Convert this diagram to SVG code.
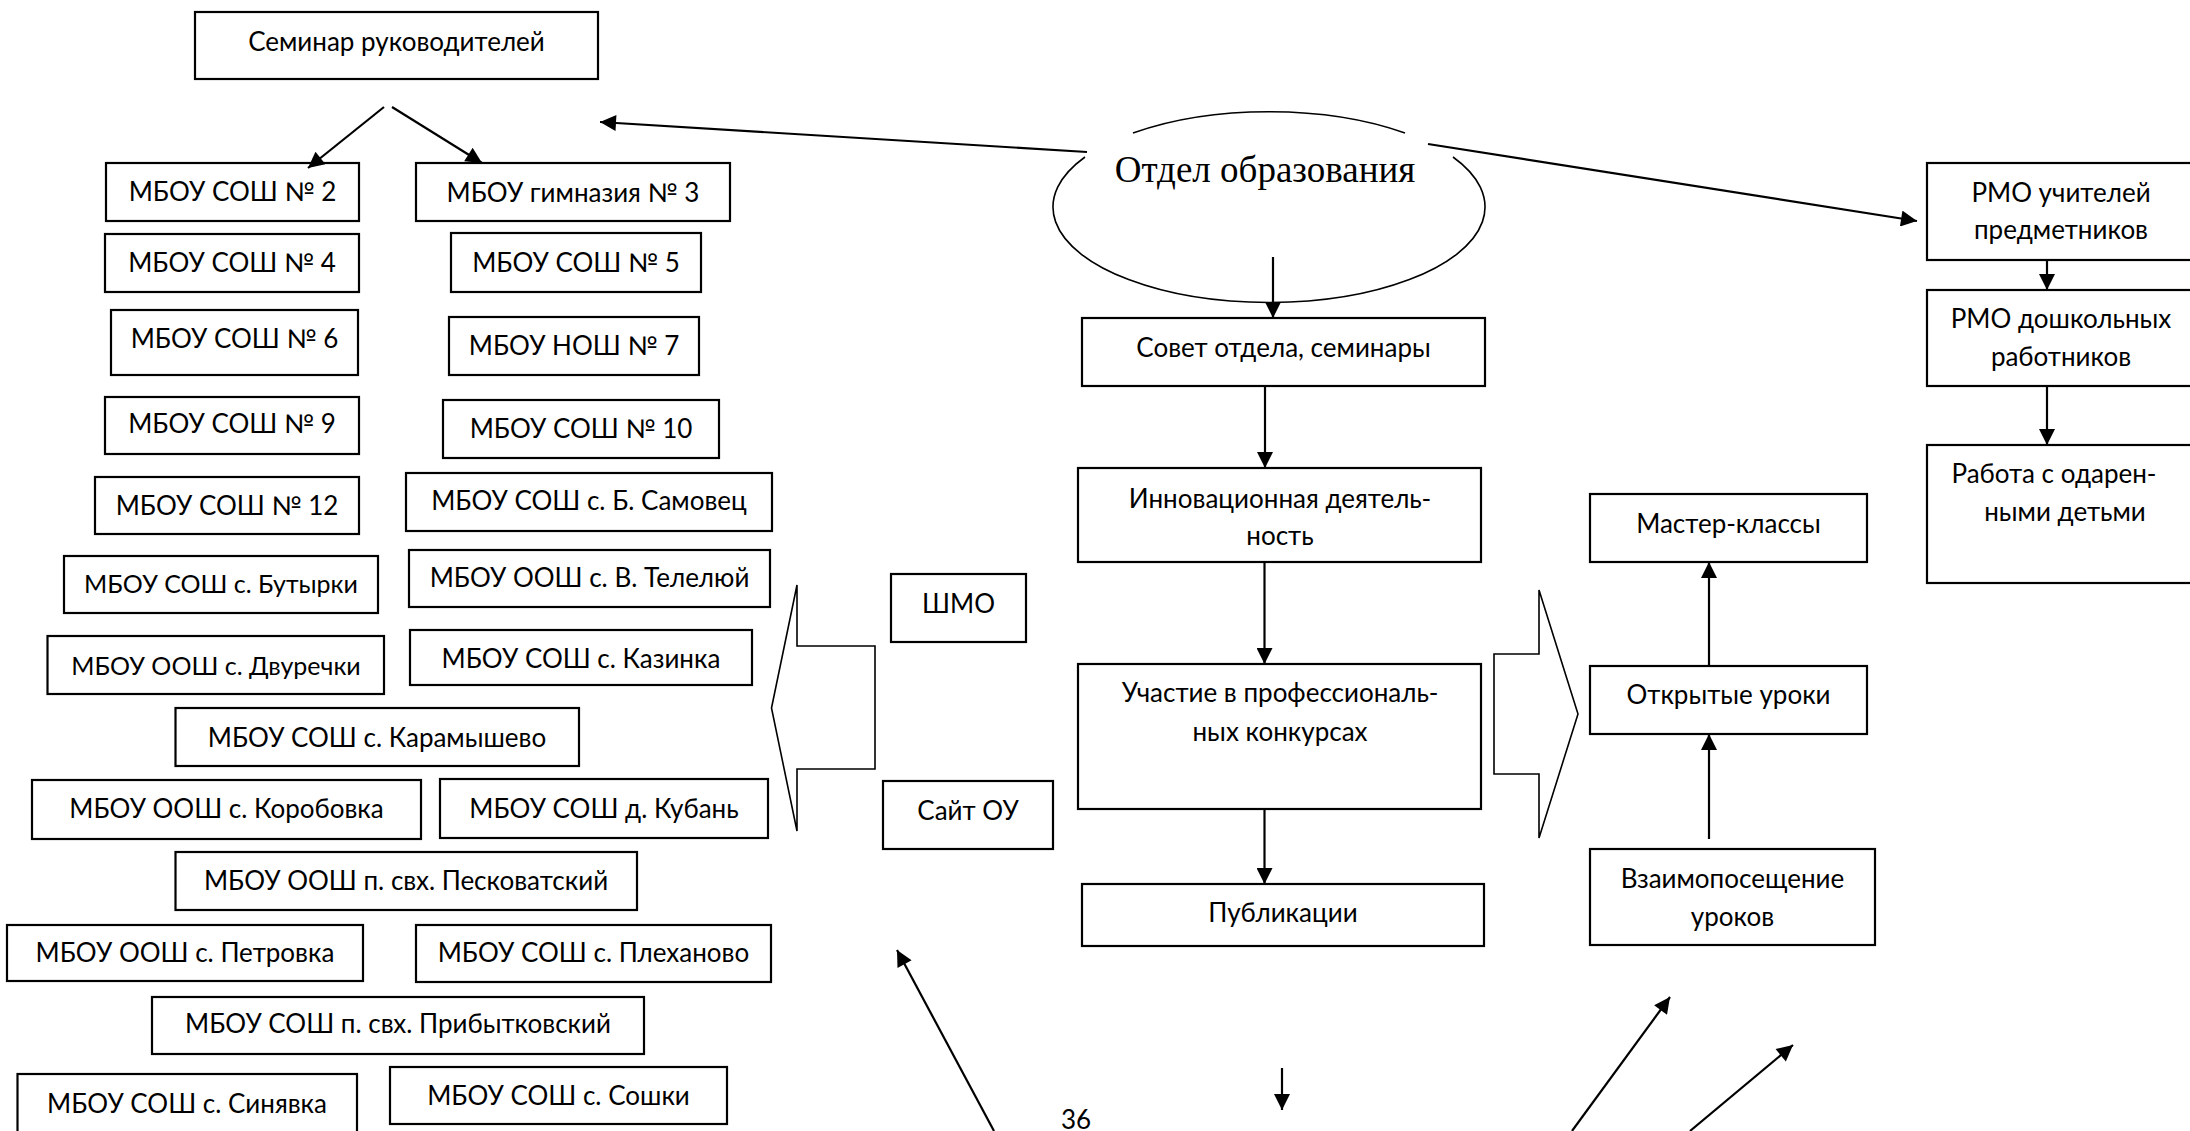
<svg xmlns="http://www.w3.org/2000/svg" width="2190" height="1131" viewBox="0 0 2190 1131">
<defs>
<marker id="ah" viewBox="0 0 10 10" refX="10" refY="5" markerWidth="17" markerHeight="16" markerUnits="userSpaceOnUse" orient="auto"><path d="M0,0 L10,5 L0,10 z" fill="#000"/></marker>
<style>
.b{fill:#fff;stroke:#000;stroke-width:2.2}
.t{font-family:Lato,"Liberation Sans","Noto Sans",sans-serif;font-size:26px;fill:#000;text-anchor:middle}
.s{font-size:25px}
.c{fill:none;stroke:#000;stroke-width:2.2;marker-end:url(#ah)}
.blk{fill:#fff;stroke:#000;stroke-width:1.6}
.e{fill:none;stroke:#000;stroke-width:1.6}
</style>
</defs>
<rect width="2190" height="1131" fill="#fff"/>

<g id="seminar"><rect class="b" x="195" y="12" width="403" height="67"/><text class="t" x="396.5" y="51">Семинар руководителей</text></g>
<g id="sosh2"><rect class="b" x="106" y="163" width="253" height="58"/><text class="t" x="232.5" y="201">МБОУ СОШ № 2</text></g>
<g id="gym3"><rect class="b" x="416" y="163" width="314" height="58"/><text class="t" x="573" y="202">МБОУ гимназия № 3</text></g>
<g id="sosh4"><rect class="b" x="105" y="234" width="254" height="58"/><text class="t" x="232" y="272">МБОУ СОШ № 4</text></g>
<g id="sosh5"><rect class="b" x="451" y="233" width="250" height="59"/><text class="t" x="576" y="272">МБОУ СОШ № 5</text></g>
<g id="sosh6"><rect class="b" x="111" y="310" width="247" height="65"/><text class="t" x="234.5" y="348">МБОУ СОШ № 6</text></g>
<g id="nosh7"><rect class="b" x="449" y="317" width="250" height="58"/><text class="t" x="574" y="355">МБОУ НОШ № 7</text></g>
<g id="sosh9"><rect class="b" x="105" y="397" width="254" height="57"/><text class="t" x="232" y="433">МБОУ СОШ № 9</text></g>
<g id="sosh10"><rect class="b" x="443" y="400" width="276" height="58"/><text class="t" x="581" y="438">МБОУ СОШ № 10</text></g>
<g id="sosh12"><rect class="b" x="95" y="477" width="264" height="57"/><text class="t" x="227" y="515">МБОУ СОШ № 12</text></g>
<g id="samovets"><rect class="b" x="406" y="473" width="366" height="58"/><text class="t" x="589" y="510">МБОУ СОШ с. Б. Самовец</text></g>
<g id="butyrki"><rect class="b" x="64" y="556" width="314" height="57"/><text class="t s" x="221" y="593">МБОУ СОШ с. Бутырки</text></g>
<g id="telelyuy"><rect class="b" x="409" y="550" width="361" height="57"/><text class="t" x="589.5" y="587">МБОУ ООШ с. В. Телелюй</text></g>
<g id="dvurechki"><rect class="b" x="47.5" y="636" width="336.5" height="58"/><text class="t s" x="216" y="675">МБОУ ООШ с. Двуречки</text></g>
<g id="kazinka"><rect class="b" x="410" y="630" width="342" height="55"/><text class="t" x="581" y="668">МБОУ СОШ с. Казинка</text></g>
<g id="karamyshevo"><rect class="b" x="175.5" y="708" width="403.5" height="58"/><text class="t" x="377" y="747">МБОУ СОШ с. Карамышево</text></g>
<g id="korobovka"><rect class="b" x="32" y="780" width="389" height="59"/><text class="t" x="226.5" y="818">МБОУ ООШ с. Коробовка</text></g>
<g id="kuban"><rect class="b" x="440" y="779" width="328" height="59"/><text class="t" x="604" y="818">МБОУ СОШ д. Кубань</text></g>
<g id="peskovatsky"><rect class="b" x="175.5" y="852" width="461.5" height="58"/><text class="t" x="406" y="890">МБОУ ООШ п. свх. Песковатский</text></g>
<g id="petrovka"><rect class="b" x="7" y="925" width="356" height="56"/><text class="t" x="185" y="962">МБОУ ООШ с. Петровка</text></g>
<g id="plekhanovo"><rect class="b" x="416" y="925" width="355" height="57"/><text class="t" x="593.5" y="962">МБОУ СОШ с. Плеханово</text></g>
<g id="pribytkovsky"><rect class="b" x="152" y="997" width="492" height="57"/><text class="t" x="398" y="1033">МБОУ СОШ п. свх. Прибытковский</text></g>
<g id="sinyavka"><rect class="b" x="17.5" y="1074" width="339.5" height="70"/><text class="t" x="187" y="1113">МБОУ СОШ с. Синявка</text></g>
<g id="soshki"><rect class="b" x="390" y="1067" width="337" height="57"/><text class="t" x="558.5" y="1105">МБОУ СОШ с. Сошки</text></g>

<g id="otdel">
<path class="e" d="M1133,133 A216,95.5 0 0 1 1405,133"/>
<path class="e" d="M1453,157 A216,95.5 0 1 1 1085,157"/>
<text x="1265" y="182" font-family="'Liberation Serif','Times New Roman',serif" font-size="37" text-anchor="middle">Отдел образования</text>
</g>
<g id="sovet"><rect class="b" x="1082" y="318" width="403" height="68"/><text class="t" x="1283.5" y="357">Совет отдела, семинары</text></g>
<g id="innov"><rect class="b" x="1078" y="468" width="403" height="94"/><text class="t" x="1280" y="508">Инновационная деятель-</text><text class="t" x="1280" y="545">ность</text></g>
<g id="uchastie"><rect class="b" x="1078" y="664" width="403" height="145"/><text class="t" x="1280" y="702">Участие в профессиональ-</text><text class="t" x="1280" y="741">ных конкурсах</text></g>
<g id="publ"><rect class="b" x="1082" y="884" width="402" height="62"/><text class="t" x="1283" y="922">Публикации</text></g>
<g id="shmo"><rect class="b" x="891" y="574" width="135" height="68"/><text class="t" x="958.5" y="613">ШМО</text></g>
<g id="sait"><rect class="b" x="883" y="781" width="170" height="68"/><text class="t" x="968" y="820">Сайт ОУ</text></g>
<g id="master"><rect class="b" x="1590" y="494" width="277" height="68"/><text class="t" x="1728.5" y="533">Мастер-классы</text></g>
<g id="otkr"><rect class="b" x="1590" y="666" width="277" height="68"/><text class="t" x="1728.5" y="704">Открытые уроки</text></g>
<g id="vzaimo"><rect class="b" x="1590" y="849" width="285" height="96"/><text class="t" x="1732.5" y="888">Взаимопосещение</text><text class="t" x="1732.5" y="926">уроков</text></g>
<g id="rmo1"><rect class="b" x="1927" y="163" width="270" height="97"/><text class="t" x="2061" y="202">РМО учителей</text><text class="t" x="2061" y="239">предметников</text></g>
<g id="rmo2"><rect class="b" x="1927" y="290" width="270" height="96"/><text class="t" x="2061" y="328">РМО дошкольных</text><text class="t" x="2061" y="366">работников</text></g>
<g id="odar"><rect class="b" x="1927" y="445" width="270" height="138"/><text class="t" x="2054" y="483">Работа с одарен-</text><text class="t" x="2065" y="521">ными детьми</text></g>

<g id="blockarrows">
<polygon class="blk" points="797,585 797,646 875,646 875,769 797,769 797,831 771.5,708"/>
<polygon class="blk" points="1539,590 1539,654 1494,654 1494,774 1539,774 1539,838 1578,714"/>
</g>

<g id="pagenum"><text class="t" x="1076" y="1129" font-size="24">36</text></g>

<g id="connectors">
<line class="c" x1="384" y1="107" x2="308" y2="168"/>
<line class="c" x1="392" y1="107" x2="482" y2="163"/>
<line class="c" x1="1087" y1="152" x2="600" y2="122"/>
<line class="c" x1="1428" y1="144" x2="1917" y2="221"/>
<line class="c" x1="1273" y1="257" x2="1273" y2="318"/>
<line class="c" x1="1265" y1="386" x2="1265" y2="468"/>
<line class="c" x1="1264.5" y1="562" x2="1264.5" y2="664"/>
<line class="c" x1="1264.5" y1="809" x2="1264.5" y2="884"/>
<line class="c" x1="1709" y1="839" x2="1709" y2="734"/>
<line class="c" x1="1709" y1="666" x2="1709" y2="562"/>
<line class="c" x1="2047" y1="260" x2="2047" y2="290"/>
<line class="c" x1="2047" y1="386" x2="2047" y2="445"/>
<line class="c" x1="994" y1="1131" x2="897" y2="950"/>
<line class="c" x1="1572" y1="1131" x2="1670" y2="997"/>
<line class="c" x1="1690" y1="1131" x2="1793" y2="1045"/>
<line class="c" x1="1282" y1="1068" x2="1282" y2="1110"/>
</g>
</svg>
